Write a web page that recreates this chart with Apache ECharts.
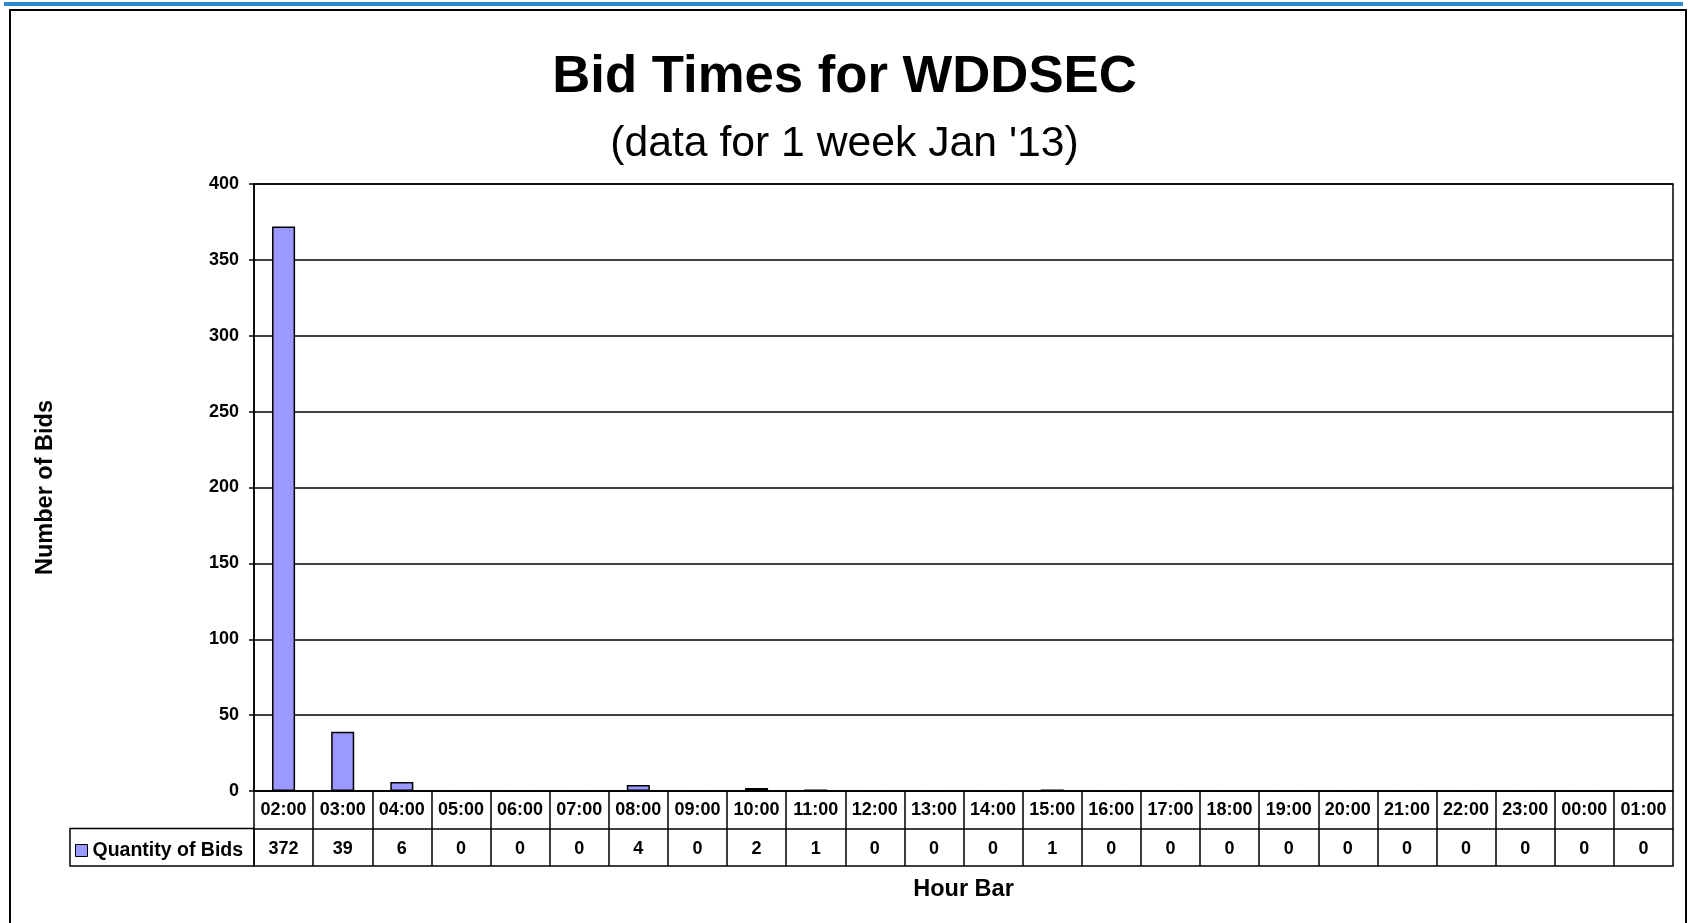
<!DOCTYPE html>
<html>
<head>
<meta charset="utf-8">
<title>Bid Times for WDDSEC</title>
<script src="https://cdn.jsdelivr.net/npm/echarts@6/dist/echarts.min.js"></script>
<style>
  html, body { margin: 0; padding: 0; background: #fff; }
  #chart { width: 1689px; height: 923px; }
</style>
</head>
<body>
<div id="chart"></div>
<script>
// hours shown on the category axis (the week starts at 02:00)
const hours = ['02:00', '03:00', '04:00', '05:00', '06:00', '07:00', '08:00', '09:00',
  '10:00', '11:00', '12:00', '13:00', '14:00', '15:00', '16:00', '17:00',
  '18:00', '19:00', '20:00', '21:00', '22:00', '23:00', '00:00', '01:00']
const bids = [372, 39, 6, 0, 0, 0, 4, 0, 2, 1, 0, 0, 0, 1, 0, 0, 0, 0, 0, 0, 0, 0, 0, 0]
const yTicks = { min: 0, max: 400, interval: 50 }

const FONT = '"Liberation Sans", Arial, sans-serif'
const BLACK = '#000'
const BAR = '#9999ff'

// layout of the plot and the data table under it
const W = 1689, H = 923
const G = { left: 254, right: 16, top: 184, bottom: 132 }
const ROW = 37.5
const plotBottom = H - G.bottom
const legendCellLeft = 70

const chart = echarts.init(document.getElementById('chart'))

const tableLine = { show: true, lineStyle: { color: BLACK, width: 1.5 } }

chart.setOption({
  backgroundColor: '#fff',
  animation: false,
  textStyle: { fontFamily: FONT },
  title: [
    {
      text: 'Bid Times for WDDSEC',
      left: 'center', top: 47, padding: 0,
      textStyle: { fontFamily: FONT, fontSize: 52.7, fontWeight: 'bold', color: BLACK, lineHeight: 60 },
    },
    {
      text: "(data for 1 week Jan '13)",
      left: 'center', top: 119, padding: 0,
      textStyle: { fontFamily: FONT, fontSize: 42.7, fontWeight: 'normal', color: BLACK, lineHeight: 50 },
    },
  ],
  legend: {
    left: 75, top: plotBottom + ROW + 12, padding: 0,
    icon: 'rect', itemWidth: 12, itemHeight: 12,
    itemStyle: { borderColor: BLACK, borderWidth: 1 },
    textStyle: { fontFamily: FONT, fontSize: 19.5, fontWeight: 'bold', color: BLACK, lineHeight: 20 },
    data: ['Quantity of Bids'],
  },
  grid: {
    left: G.left, right: G.right, top: G.top, bottom: G.bottom,
    show: true, borderColor: BLACK, borderWidth: 1.5, backgroundColor: 'transparent',
    containLabel: false,
  },
  xAxis: [
    {
      type: 'category', data: hours, position: 'bottom',
      axisLine: tableLine,
      axisTick: { show: true, interval: 0, length: ROW * 2, lineStyle: { color: BLACK, width: 1.5 } },
      axisLabel: { interval: 0, margin: 10, color: BLACK, fontFamily: FONT, fontSize: 18, fontWeight: 'bold' },
      name: 'Hour Bar', nameLocation: 'middle', nameGap: 87,
      nameTextStyle: { fontFamily: FONT, fontSize: 23.5, fontWeight: 'bold', color: BLACK },
    },
    {
      // line between the hour row and the value row
      type: 'category', data: hours, position: 'bottom', offset: ROW,
      axisLine: tableLine, axisTick: { show: false }, axisLabel: { show: false },
    },
    {
      // value row of the data table
      type: 'category', data: hours, position: 'bottom', offset: ROW * 2,
      axisLine: tableLine, axisTick: { show: false },
      axisLabel: {
        inside: true, interval: 0, margin: 8,
        color: BLACK, fontFamily: FONT, fontSize: 18, fontWeight: 'bold',
        formatter: (v, i) => String(bids[i]),
      },
    },
  ],
  yAxis: {
    type: 'value', min: yTicks.min, max: yTicks.max, interval: yTicks.interval,
    axisLine: { show: true, lineStyle: { color: BLACK, width: 1.5 } },
    axisTick: { show: true, length: 5, lineStyle: { color: BLACK, width: 1.5 } },
    splitLine: { show: true, lineStyle: { color: BLACK, width: 1.5 } },
    axisLabel: { margin: 15, color: BLACK, fontFamily: FONT, fontSize: 18, fontWeight: 'bold' },
    name: 'Number of Bids', nameLocation: 'middle', nameGap: 196, nameRotate: 90,
    nameTextStyle: { fontFamily: FONT, fontSize: 23.5, fontWeight: 'bold', color: BLACK },
  },
  series: [
    {
      name: 'Quantity of Bids', type: 'bar', data: bids, xAxisIndex: 0,
      barWidth: '39%',
      itemStyle: { color: BAR, borderColor: BLACK, borderWidth: 1.5 },
    },
  ],
  graphic: [
    {
      // blue rule across the top of the page
      type: 'rect', shape: { x: 4, y: 2, width: W - 10, height: 4 },
      style: { fill: '#2f88cc' }, silent: true,
    },
    {
      // outer frame (bottom edge runs off the page)
      type: 'rect', shape: { x: 10, y: 10, width: W - 13, height: H + 20 },
      style: { fill: 'none', stroke: BLACK, lineWidth: 2 }, silent: true,
    },
    {
      // legend cell of the data table
      type: 'rect',
      shape: { x: legendCellLeft, y: plotBottom + ROW, width: G.left - legendCellLeft, height: ROW },
      style: { fill: 'none', stroke: BLACK, lineWidth: 1.5 }, silent: true,
    },
  ],
})

window.addEventListener('resize', () => chart.resize())
</script>
</body>
</html>
